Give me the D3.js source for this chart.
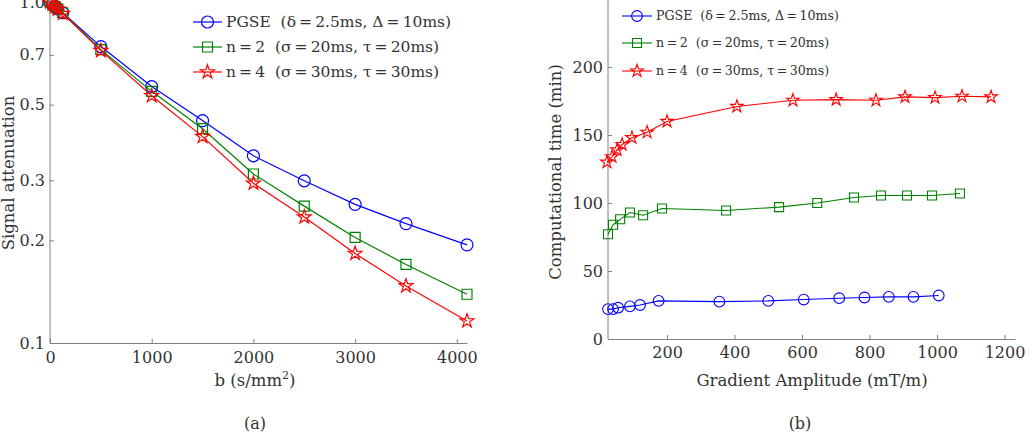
<!DOCTYPE html>
<html>
<head>
<meta charset="utf-8">
<script src="https://cdn.jsdelivr.net/npm/d3@7"></script>
<style>
  body { margin: 0; background: #fff; }
  svg { display: block; font-family: "DejaVu Serif", serif; }
  .axis path, .axis line { stroke: #808080; }
  .axis text { fill: #333; font-family: "DejaVu Serif", serif; }
  .title { fill: #333; }
</style>
</head>
<body>
<div id="chart"></div>
<script>
// (a) signal attenuation vs b-value
const bValues = [0, 25, 50, 75, 125, 500, 1000, 1500, 2000, 2500, 3000, 3500, 4100];
const attPGSE = [1.0, 0.985, 0.97, 0.955, 0.93, 0.74, 0.565, 0.449, 0.354, 0.299, 0.255, 0.224, 0.194];
const attN2   = [1.0, 0.985, 0.97, 0.955, 0.93, 0.725, 0.547, 0.425, 0.313, 0.252, 0.204, 0.170, 0.139];
const attN4   = [1.0, 0.984, 0.968, 0.952, 0.925, 0.72, 0.531, 0.403, 0.294, 0.234, 0.183, 0.147, 0.116];
const ticksA_x = [0, 1000, 2000, 3000, 4000];
const ticksA_y = [0.1, 0.2, 0.3, 0.5, 0.7, 1.0];

// (b) computational time vs gradient amplitude
const gradPGSE = [25, 40, 55, 90, 120, 175, 355, 500, 605, 710, 785, 857, 930, 1005];
const timePGSE = [22, 22, 23, 24, 25, 28, 27.5, 28, 29, 30, 30.5, 31, 31, 32];
const gradN2 = [25, 40, 61, 90, 129, 185, 375, 532, 645, 754, 834, 911, 985, 1068];
const timeN2 = [77, 84, 88, 93, 91, 96, 94.5, 97, 100, 104, 105.5, 105.5, 105.5, 107];
const gradN4 = [22, 37, 52, 67, 96, 141, 200, 407, 573, 701, 819, 905, 994, 1074, 1160];
const timeN4 = [130, 134, 139, 143, 148, 152, 160, 171, 175.5, 176, 175.5, 178, 177.5, 178.5, 178];
const ticksB_x = [200, 400, 600, 800, 1000, 1200];
const ticksB_y = [0, 50, 100, 150, 200];

// thin spaces round "=" like the TeX legend
const legendLabels = [
  'PGSE  (δ\u2009=\u20092.5ms, Δ\u2009=\u200910ms)',
  'n\u2009=\u20092  (σ\u2009=\u200920ms, τ\u2009=\u200920ms)',
  'n\u2009=\u20094  (σ\u2009=\u200930ms, τ\u2009=\u200930ms)'
];
const colors = ['#0000ff', '#008000', '#ff0000'];
const symbols = [d3.symbolCircle, d3.symbolSquare, d3.symbolStar];

const W = 1032, H = 440;
const svg = d3.select('#chart').append('svg').attr('width', W).attr('height', H);
svg.append('rect').attr('width', W).attr('height', H).attr('fill', '#fff');

function panel(opt){
  const g = svg.append('g');
  const x = opt.x, y = opt.y;

  const axX = g.append('g').attr('class', 'axis')
    .attr('transform', `translate(0,${y.range()[0]})`)
    .call(d3.axisBottom(x).tickValues(opt.xticks).tickSizeInner(-4).tickSizeOuter(0)
      .tickPadding(opt.xpad).tickFormat(d3.format('d')));
  const axY = g.append('g').attr('class', 'axis')
    .attr('transform', `translate(${x.range()[0]},0)`)
    .call(d3.axisLeft(y).tickValues(opt.yticks).tickSizeInner(-4).tickSizeOuter(0).tickPadding(5).tickFormat(opt.yfmt));
  axX.selectAll('text').style('font-size', opt.fs + 'px');
  axY.selectAll('text').style('font-size', opt.fs + 'px');
  // y axis line runs up to the top edge
  axY.select('path').attr('d', `M0,${y.range()[0]}V${opt.yTop}`);

  opt.series.forEach((s, i) => {
    const pts = s.xs.map((v, k) => [x(v), y(s.ys[k])]);
    g.append('path').attr('d', d3.line()(pts))
      .attr('fill', 'none').attr('stroke', colors[i]).attr('stroke-width', opt.lw);
    g.selectAll(null).data(pts).join('path')
      .attr('transform', d => `translate(${d[0]},${d[1]})`)
      .attr('d', d3.symbol(symbols[i], opt.sizes[i]))
      .attr('fill', 'none').attr('stroke', colors[i]).attr('stroke-width', opt.lw);
  });

  // legend
  const lg = g.append('g');
  legendLabels.forEach((t, i) => {
    const ly = opt.leg.y[i];
    lg.append('line').attr('x1', opt.leg.x0).attr('x2', opt.leg.x1).attr('y1', ly).attr('y2', ly)
      .attr('stroke', colors[i]).attr('stroke-width', opt.lw);
    lg.append('path').attr('transform', `translate(${(opt.leg.x0 + opt.leg.x1) / 2},${ly})`)
      .attr('d', d3.symbol(symbols[i], opt.sizes[i]))
      .attr('fill', 'none').attr('stroke', colors[i]).attr('stroke-width', opt.lw);
    lg.append('text').attr('x', opt.leg.x1 + 4).attr('y', ly).attr('dy', '0.35em')
      .style('font-size', opt.leg.fs + 'px').style('white-space', 'pre')
      .attr('fill', '#333').text(t);
  });
  return g;
}

// panel (a)
const xA = d3.scaleLinear([0, 4100], [50, 467]);
const yA = d3.scaleLog([0.1, 1.0], [343, 2]);
const gA = panel({
  x: xA, y: yA, xticks: ticksA_x, yticks: ticksA_y, yfmt: d3.format('.1f'),
  fs: 16, xpad: 9, lw: 1.2, yTop: 0, sizes: [113, 100, 60],
  series: [
    {xs: bValues, ys: attPGSE}, {xs: bValues, ys: attN2}, {xs: bValues, ys: attN4}
  ],
  leg: {x0: 193, x1: 222, y: [22, 47, 72], fs: 15.5}
});
const tA = gA.append('text').attr('class', 'title').attr('x', 255).attr('y', 386)
  .attr('text-anchor', 'middle').style('font-size', '16.5px');
tA.append('tspan').text('b (s/mm');
tA.append('tspan').attr('dy', -7).style('font-size', '11px').text('2');
tA.append('tspan').attr('dy', 7).text(')');
gA.append('text').attr('class', 'title').attr('transform', 'translate(14,173)rotate(-90)')
  .attr('text-anchor', 'middle').style('font-size', '16.5px').text('Signal attenuation');
gA.append('text').attr('class', 'title').attr('x', 255).attr('y', 429)
  .attr('text-anchor', 'middle').style('font-size', '16px').text('(a)');

// panel (b)
const xB = d3.scaleLinear([25, 1231], [608, 1015]);
const yB = d3.scaleLinear([0, 250], [339, -1]);
const gB = panel({
  x: xB, y: yB, xticks: ticksB_x, yticks: ticksB_y, yfmt: d3.format('d'),
  fs: 16, xpad: 8, lw: 1.1, yTop: 0, sizes: [90, 81, 50],
  series: [
    {xs: gradPGSE, ys: timePGSE}, {xs: gradN2, ys: timeN2}, {xs: gradN4, ys: timeN4}
  ],
  leg: {x0: 622, x1: 652, y: [16, 43, 71], fs: 12.6}
});
gB.append('text').attr('class', 'title').attr('x', 812).attr('y', 386)
  .attr('text-anchor', 'middle').style('font-size', '16.5px').text('Gradient Amplitude (mT/m)');
gB.append('text').attr('class', 'title').attr('transform', 'translate(561,172)rotate(-90)')
  .attr('text-anchor', 'middle').style('font-size', '16.5px').text('Computational time (min)');
gB.append('text').attr('class', 'title').attr('x', 800).attr('y', 429)
  .attr('text-anchor', 'middle').style('font-size', '16px').text('(b)');
</script>
</body>
</html>
